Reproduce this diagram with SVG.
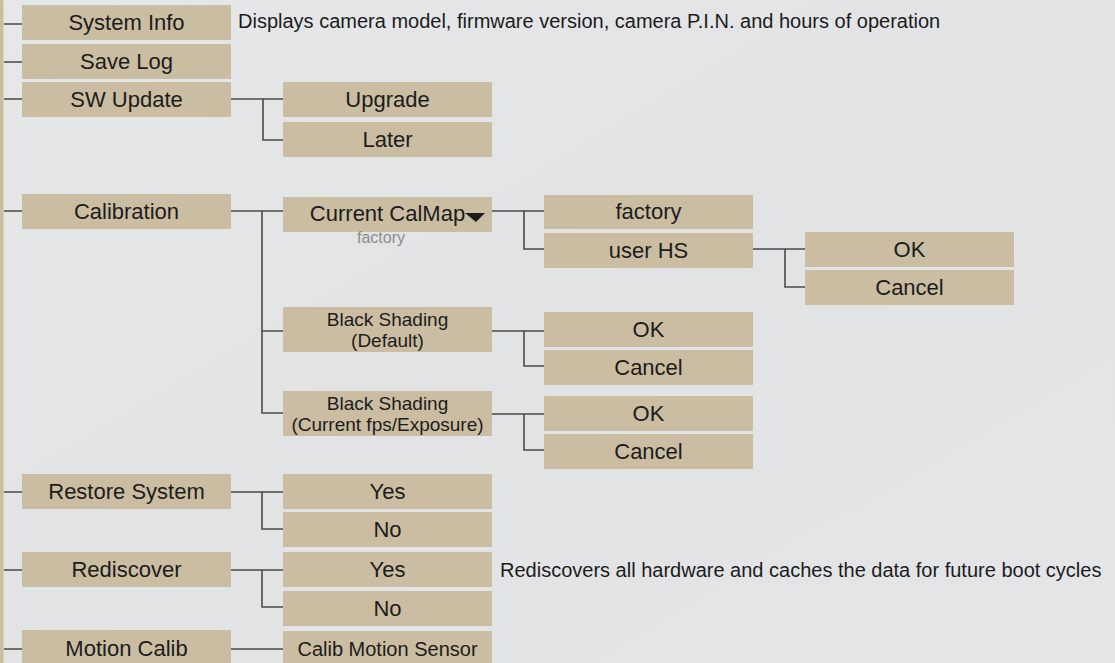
<svg xmlns="http://www.w3.org/2000/svg" width="1115" height="663" viewBox="0 0 1115 663">
<defs>
<style>
.bx{fill:#cbbda1}
.t{font-family:"Liberation Sans",Arial,Helvetica,sans-serif;font-size:22px;fill:#1c1c1c;text-anchor:middle}
.s{font-size:20px}
.s2{font-size:19px}
.d{font-family:"Liberation Sans",Arial,Helvetica,sans-serif;font-size:20px;fill:#1c1c1c}
.g{font-family:"Liberation Sans",Arial,Helvetica,sans-serif;font-size:16px;fill:#8c8c8c;text-anchor:middle}
.c{fill:none;stroke:#4a4a4a;stroke-width:1.6}
</style>
<linearGradient id="bg" x1="0" y1="0" x2="1" y2="1">
<stop offset="0" stop-color="#e6e7e8"/>
<stop offset="0.5" stop-color="#e1e3e5"/>
<stop offset="1" stop-color="#e4e5e6"/>
</linearGradient>
</defs>
<rect x="0" y="0" width="1115" height="663" fill="url(#bg)"/>
<rect x="0" y="0" width="3.5" height="663" fill="#cbbda1"/>

<g id="connectors">
<path class="c" d="M4,24H22M4,62H22M4,99H22M4,211H22M4,492H22M4,570H22M4,649H22"/>
<path class="c" d="M231,99H283M263,99V140H283"/>
<path class="c" d="M231,211H283M262,211V413H283M262,331H283"/>
<path class="c" d="M492,211H544M524,211V249H544"/>
<path class="c" d="M753,249H805M785,249V287H805"/>
<path class="c" d="M492,331H544M524,331V366H544"/>
<path class="c" d="M492,414H544M524,414V450H544"/>
<path class="c" d="M231,492H283M262,492V529H283"/>
<path class="c" d="M231,570H283M262,570V607H283"/>
<path class="c" d="M231,649H283"/>
</g>

<g id="system-info"><rect class="bx" x="22" y="5" width="209" height="35"/><text class="t" x="126.5" y="30">System Info</text></g>
<g id="system-info-desc"><text class="d" x="238" y="28">Displays camera model, firmware version, camera P.I.N. and hours of operation</text></g>
<g id="save-log"><rect class="bx" x="22" y="44" width="209" height="35"/><text class="t" x="126.5" y="69">Save Log</text></g>
<g id="sw-update"><rect class="bx" x="22" y="82" width="209" height="35"/><text class="t" x="126.5" y="107">SW Update</text></g>
<g id="upgrade"><rect class="bx" x="283" y="82" width="209" height="35"/><text class="t" x="387.5" y="107">Upgrade</text></g>
<g id="later"><rect class="bx" x="283" y="122" width="209" height="35"/><text class="t" x="387.5" y="147">Later</text></g>

<g id="calibration"><rect class="bx" x="22" y="194" width="209" height="35"/><text class="t" x="126.5" y="219">Calibration</text></g>
<g id="current-calmap"><rect class="bx" x="283" y="197" width="209" height="35"/><text class="t" x="387.5" y="221">Current CalMap</text><polygon points="465,213 485,213 476,222" fill="#1c1c1c"/><text class="g" x="381" y="243">factory</text></g>
<g id="factory"><rect class="bx" x="544" y="195" width="209" height="34"/><text class="t" x="648.5" y="219">factory</text></g>
<g id="user-hs"><rect class="bx" x="544" y="233" width="209" height="35"/><text class="t" x="648.5" y="258">user HS</text></g>
<g id="hs-ok"><rect class="bx" x="805" y="232" width="209" height="35"/><text class="t" x="909.5" y="257">OK</text></g>
<g id="hs-cancel"><rect class="bx" x="805" y="270" width="209" height="35"/><text class="t" x="909.5" y="295">Cancel</text></g>

<g id="bs-default"><rect class="bx" x="283" y="307" width="209" height="45"/><text class="t s2" x="387.5" y="326">Black Shading</text><text class="t s2" x="387.5" y="347">(Default)</text></g>
<g id="bsd-ok"><rect class="bx" x="544" y="312" width="209" height="35"/><text class="t" x="648.5" y="337">OK</text></g>
<g id="bsd-cancel"><rect class="bx" x="544" y="350" width="209" height="35"/><text class="t" x="648.5" y="375">Cancel</text></g>

<g id="bs-current"><rect class="bx" x="283" y="391" width="209" height="45"/><text class="t s2" x="387.5" y="410">Black Shading</text><text class="t s2" x="387.5" y="431">(Current fps/Exposure)</text></g>
<g id="bsc-ok"><rect class="bx" x="544" y="396" width="209" height="35"/><text class="t" x="648.5" y="421">OK</text></g>
<g id="bsc-cancel"><rect class="bx" x="544" y="434" width="209" height="35"/><text class="t" x="648.5" y="459">Cancel</text></g>

<g id="restore-system"><rect class="bx" x="22" y="474" width="209" height="35"/><text class="t" x="126.5" y="499">Restore System</text></g>
<g id="restore-yes"><rect class="bx" x="283" y="474" width="209" height="35"/><text class="t" x="387.5" y="499">Yes</text></g>
<g id="restore-no"><rect class="bx" x="283" y="512" width="209" height="35"/><text class="t" x="387.5" y="537">No</text></g>

<g id="rediscover"><rect class="bx" x="22" y="552" width="209" height="35"/><text class="t" x="126.5" y="577">Rediscover</text></g>
<g id="rediscover-yes"><rect class="bx" x="283" y="552" width="209" height="35"/><text class="t" x="387.5" y="577">Yes</text></g>
<g id="rediscover-desc"><text class="d" x="500" y="577">Rediscovers all hardware and caches the data for future boot cycles</text></g>
<g id="rediscover-no"><rect class="bx" x="283" y="591" width="209" height="35"/><text class="t" x="387.5" y="616">No</text></g>

<g id="motion-calib"><rect class="bx" x="22" y="630" width="209" height="35"/><text class="t" x="126.5" y="656">Motion Calib</text></g>
<g id="calib-motion-sensor"><rect class="bx" x="283" y="631" width="209" height="35"/><text class="t s" x="387.5" y="656">Calib Motion Sensor</text></g>
</svg>
